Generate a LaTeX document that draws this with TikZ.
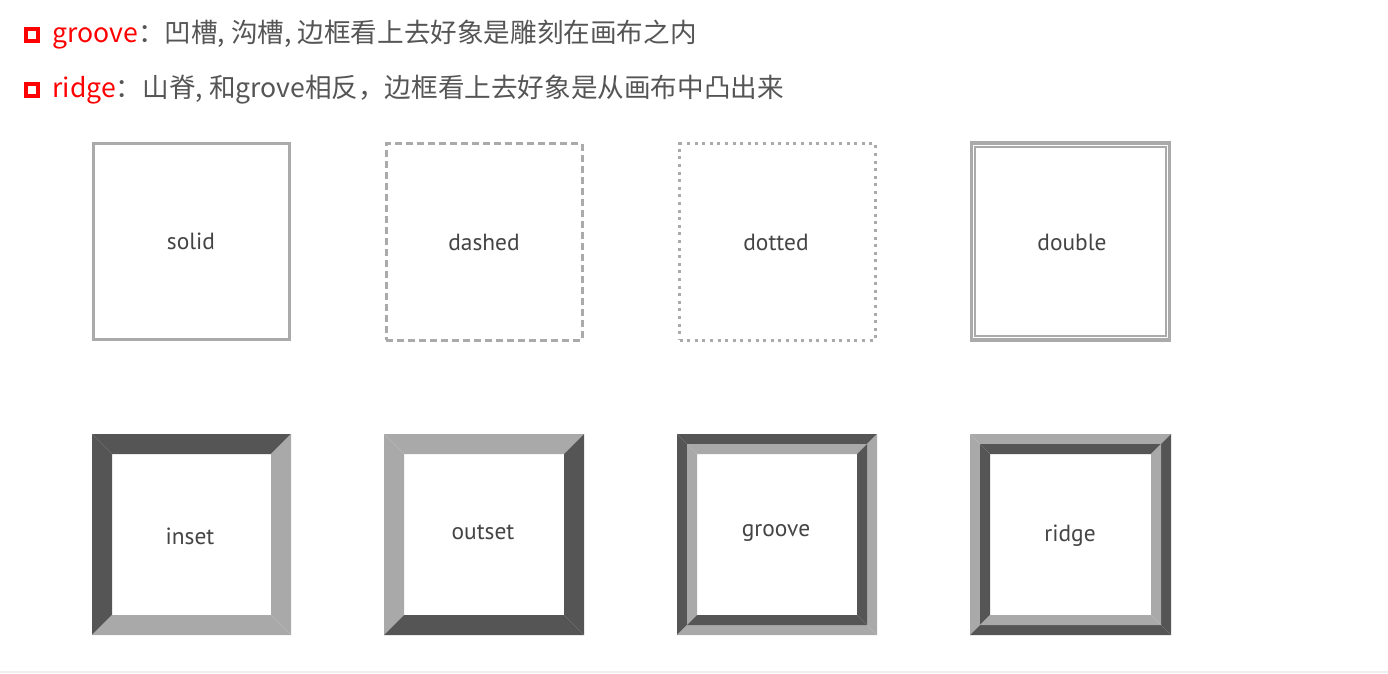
\documentclass[tikz,border=0pt]{standalone}
\usepackage{fontspec}
\setmainfont{PT Sans}
\newfontfamily\cjk{Noto Sans CJK SC}
\definecolor{darkb}{HTML}{555555}
\definecolor{lightb}{HTML}{A9A9A9}
\definecolor{linegray}{HTML}{AAAAAA}
\definecolor{txtgray}{HTML}{555555}
\definecolor{lblgray}{HTML}{444444}
\definecolor{hred}{HTML}{FF0000}
\definecolor{rulegray}{HTML}{EEEEEE}
% #1 x0, #2 y0, #3 x1, #4 y1, #5 width, #6 top-left colour, #7 bottom-right colour
\newcommand\bevelbox[7]{%
  \fill[#6] (#1,#2) -- (#3,#2) -- ({#3-#5},{#2+#5}) -- ({#1+#5},{#2+#5}) -- cycle;
  \fill[#6] (#1,#2) -- ({#1+#5},{#2+#5}) -- ({#1+#5},{#4-#5}) -- (#1,#4) -- cycle;
  \fill[#7] (#1,#4) -- (#3,#4) -- ({#3-#5},{#4-#5}) -- ({#1+#5},{#4-#5}) -- cycle;
  \fill[#7] (#3,#2) -- (#3,#4) -- ({#3-#5},{#4-#5}) -- ({#3-#5},{#2+#5}) -- cycle;
}
\begin{document}
\begin{tikzpicture}[x=0.5pt,y=-0.5pt,
  icon/.style={draw=hred, line width=1.9pt, minimum size=6.1pt, inner sep=0pt},
  head/.style={anchor=west, inner sep=0pt, text=txtgray, font=\cjk\fontsize{13.3pt}{16pt}\selectfont},
  lbl/.style={text=lblgray, inner sep=0pt, font=\fontsize{11.7pt}{14pt}\selectfont},
  frame/.style={draw=linegray, line width=1.5pt, minimum width=98pt, minimum height=98pt, inner sep=0pt},
  bframe/.style={minimum width=100pt, minimum height=100.5pt, inner sep=0pt}]
\useasboundingbox (0,0) rectangle (1388,674);
\fill[white] (0,0) rectangle (1388,674);

% header
\node[icon] (ic1) at (32,35) {};
\node[head] (h1) at (52,35) {\textcolor{hred}{groove}：凹槽, 沟槽, 边框看上去好象是雕刻在画布之内};
\node[icon] (ic2) at (32,90) {};
\node[head] (h2) at (52,90) {\textcolor{hred}{ridge}：山脊, 和grove相反，边框看上去好象是从画布中凸出来};

% top row
\node[frame] (solid) at (191.5,241.5) {};
\node[lbl] (lsolid) at (191,241) {solid};

\node[frame, dash pattern=on 3.5pt off 2pt] (dashed) at (484,242) {};
\node[lbl] (ldashed) at (484,242) {dashed};

\node[frame, dash pattern=on 1.5pt off 2.3pt] (dotted) at (777.5,242) {};
\node[lbl] (ldotted) at (776,242) {dotted};

\node[draw=linegray, line width=1.6pt, minimum width=99pt, minimum height=98.5pt, inner sep=0pt] (double) at (1070.5,241.5) {};
\draw[linegray, line width=1pt] ([shift={(2.6pt,-2.6pt)}]double.north west) rectangle ([shift={(-2.6pt,2.6pt)}]double.south east);
\node[lbl] (ldouble) at (1072,242) {double};

% bottom row
\node[bframe] (inset) at (191.5,534.5) {};
\bevelbox{92}{434}{291}{635}{20}{darkb}{lightb}
\node[lbl] (linset) at (190,536) {inset};

\node[bframe] (outset) at (484,534.5) {};
\bevelbox{384}{434}{584}{635}{20}{lightb}{darkb}
\node[lbl] (loutset) at (483,532) {outset};

\node[bframe] (groove) at (777,534.5) {};
\bevelbox{677}{434}{877}{635}{10}{darkb}{lightb}
\bevelbox{687}{444}{867}{625}{10}{lightb}{darkb}
\node[lbl] (lgroove) at (776,533) {groove};

\node[bframe] (ridge) at (1070.5,534.5) {};
\bevelbox{970}{434}{1171}{635}{10}{lightb}{darkb}
\bevelbox{980}{444}{1161}{625}{10}{darkb}{lightb}
\node[lbl] (lridge) at (1070,535.5) {ridge};

% bottom rule
\draw[rulegray, line width=1pt] (0,672) -- (1388,672);
\end{tikzpicture}
\end{document}
